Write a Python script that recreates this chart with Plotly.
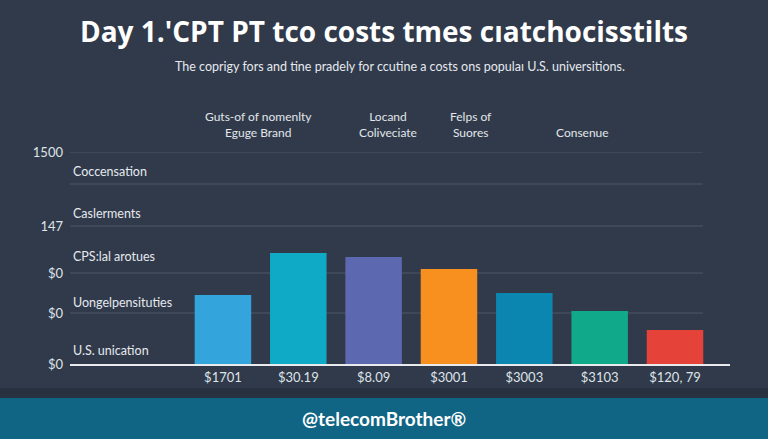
import plotly.graph_objects as go

# ---- data ----
categories = ["$1701", "$30.19", "$8.09", "$3001", "$3003", "$3103", "$120, 79"]
costs = [69, 111, 107, 95, 71, 53, 34]
bar_colors = ["#33a5dc", "#0eaac6", "#5c68b0", "#f7901f", "#0b86b1", "#10a98a", "#e5423a"]

y_tick_vals = [0, 51, 91, 138, 180, 212]
y_tick_text = ["$0", "$0", "$0", "147", "", "1500"]

row_labels = ["Coccensation", "Caslerments", "CPS:lal arotues", "Uongelpensituties", "U.S. unication"]
row_label_pos = [0.91, 0.708, 0.509, 0.292, 0.066]

col_headers = ["Guts-of of nomenlty<br>Eguge Brand", "Locand<br>Coliveciate", "Felps of<br>Suores", "Consenue"]
col_header_x = [0.286, 0.482, 0.608, 0.777]
col_header_y = [1.13, 1.13, 1.13, 1.09]

title_text = "Day 1.'CPT PT tco costs tmes cıatchocisstilts"
subtitle_text = "The coprigy fors and tine pradely for ccutine a costs ons populaı U.S. universitions."
footer_text = "@telecomBrother®"

BG = "#303a4a"
FONT = "Lato, Open Sans, sans-serif"

fig = go.Figure(go.Bar(
    x=categories, y=costs, marker=dict(color=bar_colors, line=dict(width=0)),
    width=0.75, hoverinfo="skip"))

annotations = []
for t, yp in zip(row_labels, row_label_pos):
    annotations.append(dict(text=t, x=0.002, y=yp, xref="paper", yref="paper",
                            xanchor="left", yanchor="middle", showarrow=False,
                            font=dict(size=12.5, color="#e6e9ee", family=FONT)))
for t, xp, yp in zip(col_headers, col_header_x, col_header_y):
    annotations.append(dict(text=t, x=xp, y=yp, xref="paper", yref="paper",
                            xanchor="center", yanchor="middle", showarrow=False,
                            font=dict(size=12, color="#e2e6eb", family=FONT)))
annotations.append(dict(text=subtitle_text, x=0.5, xref="paper", y=1.401, yref="paper",
                        xanchor="center", yanchor="middle", showarrow=False,
                        font=dict(size=12.5, color="#e6e9ee", family=FONT)))
annotations.append(dict(text="<b>" + footer_text + "</b>", x=(384 - 70) / 660, xref="paper",
                        y=-0.255, yref="paper", xanchor="center", yanchor="middle",
                        showarrow=False, font=dict(size=19, color="#ffffff", family=FONT)))

shapes = [
    dict(type="rect", xref="paper", yref="paper", x0=-0.2, x1=1.2,
         y0=(364 - 398) / 212, y1=(364 - 388) / 212,
         fillcolor="#283140", line=dict(width=0), layer="below"),
    dict(type="rect", xref="paper", yref="paper", x0=-0.2, x1=1.2,
         y0=(364 - 439) / 212 - 0.05, y1=(364 - 398) / 212,
         fillcolor="#106585", line=dict(width=0), layer="below"),
]
# gridlines (they stop short of the right edge in the original)
for v in y_tick_vals[1:]:
    shapes.append(dict(type="line", xref="paper", yref="y", x0=0, x1=0.959, y0=v, y1=v,
                       line=dict(color="#4b5667", width=1), layer="below"))

fig.update_layout(
    width=768, height=439,
    margin=dict(l=70, r=38, t=152, b=75),
    paper_bgcolor=BG, plot_bgcolor=BG,
    showlegend=False,
    title=dict(text="<b>" + title_text + "</b>", x=0.5, xanchor="center",
               y=1 - 32 / 439, yanchor="middle",
               font=dict(size=28, color="#ffffff", family="Open Sans, Lato, sans-serif")),
    xaxis=dict(range=[-2.03, 6.73], showgrid=False, showline=True, linecolor="#e8eaed",
               linewidth=2, ticks="", tickfont=dict(size=13, color="#dfe3e8", family=FONT),
               fixedrange=True),
    yaxis=dict(range=[0, 212], tickvals=y_tick_vals, ticktext=y_tick_text,
               showgrid=False, zeroline=False,
               showline=False, ticks="", ticklabelstandoff=6,
               tickfont=dict(size=13, color="#dfe3e8", family=FONT), fixedrange=True),
    annotations=annotations,
    shapes=shapes,
)

fig.write_html("out.html", config={"displayModeBar": False},
               post_script="document.body.style.margin='0';document.body.style.background='%s';" % BG)
